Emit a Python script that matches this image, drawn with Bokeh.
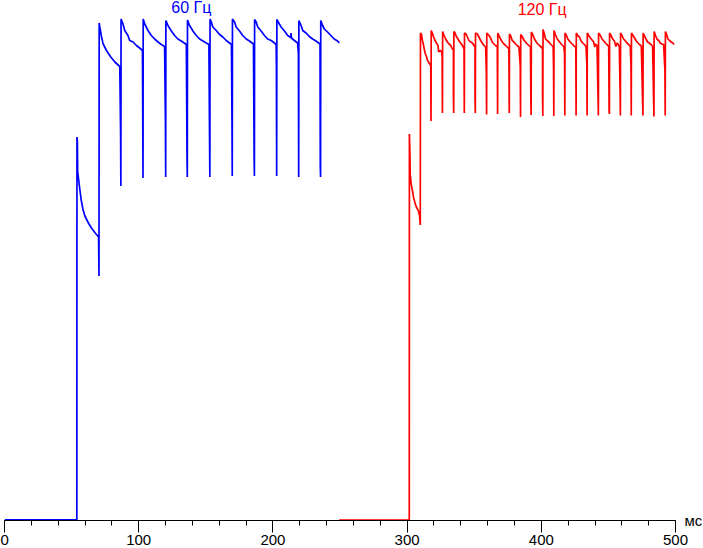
from bokeh.plotting import figure
from bokeh.models import Range1d, SingleIntervalTicker, FixedTicker, LinearAxis, Label, ColumnDataSource
from bokeh.embed import file_html
from bokeh.resources import INLINE
try:
    from bokeh.models import GlobalInlineStyleSheet
except Exception:
    GlobalInlineStyleSheet = None

# ---------------- data (time in ms, brightness in arbitrary units) ----------------
BLUE_LABEL = "60 Гц"
RED_LABEL = "120 Гц"
X_UNIT = "мс"

BLUE_BASE_T = [0.0, 53.9]
BLUE_BASE_V = [0.15, 0.15]
BLUE_RISE_T = [54.0, 54.3, 54.5, 55.9, 57.2, 58.4, 59.9, 62.5, 64.8, 67.6, 70.1]
BLUE_RISE_V = [76.7, 75.9, 69.8, 66.7, 64.0, 62.3, 60.9, 59.5, 58.5, 57.5, 56.7]
BLUE_EDGE_T = [70.4, 86.7, 103.2, 120.1, 136.2, 153.0, 169.7, 186.2, 202.8, 219.2, 235.5]
BLUE_EDGE_MID = [None, 77.9, None, 80.0, 72.7, None, 79.9, 72.7, 90.7, 93.3, 70.9]
BLUE_EDGE_LOW = [48.9, 66.9, 68.5, 68.7, 68.7, 68.7, 68.9, 68.9, 68.9, 68.7, 68.7]
BLUE_PEAK = [99.5, 100.3, 100.3, 100.0, 100.1, 100.3, 100.3, 100.2, 100.2, 100.0, 100.0]
BLUE_DECAY_T = [
    [71.0, 72.3, 73.5, 76.0, 79.2, 82.2, 85.9],
    [88.3, 89.6, 92.0, 93.3, 95.8, 98.3, 100.7, 102.8],
    [104.5, 106.9, 109.4, 111.9, 114.4, 116.9, 119.3],
    [121.8, 124.3, 126.8, 129.2, 131.7, 135.5],
    [137.9, 140.4, 142.9, 145.4, 149.1, 152.3],
    [154.1, 155.2, 157.8, 160.2, 162.7, 165.2, 167.7, 169.1],
    [171.4, 172.6, 175.1, 177.5, 180.1, 182.5, 185.5],
    [187.5, 188.7, 191.2, 193.7, 196.1, 198.7, 201.1, 202.4],
    [204.8, 206.1, 208.6, 211.0, 213.3, 213.5, 213.8, 216.0, 218.4],
    [221.0, 222.2, 224.7, 227.1, 229.6, 232.1, 235.1],
    [237.0, 238.3, 240.7, 243.2, 245.7, 248.2, 249.4],
]
BLUE_DECAY_V = [
    [98.7, 96.7, 95.3, 94.0, 92.7, 91.7, 90.8],
    [99.3, 98.0, 97.0, 96.0, 95.7, 95.0, 94.5, 94.0],
    [99.3, 98.0, 97.0, 96.3, 95.7, 95.2, 94.8],
    [99.0, 97.9, 97.0, 96.3, 95.9, 95.2],
    [99.0, 97.9, 97.0, 96.3, 95.7, 95.2],
    [99.7, 98.7, 98.0, 97.2, 96.7, 96.0, 95.5, 95.2],
    [99.7, 98.7, 97.9, 97.0, 96.3, 95.9, 95.3],
    [99.7, 98.7, 97.9, 97.0, 96.3, 96.0, 95.5, 95.2],
    [99.3, 98.7, 97.9, 97.0, 96.6, 97.5, 96.5, 96.0, 95.5],
    [99.0, 98.0, 97.5, 96.8, 96.3, 95.9, 95.3],
    [99.0, 98.3, 97.7, 97.0, 96.3, 95.9, 95.5],
]

RED_BASE_T = [249.4, 301.6]
RED_BASE_V = [0.1, 0.1]
RED_RISE_T = [301.7, 302.1, 302.3, 303.0, 304.0, 304.7, 305.7, 306.7, 307.7, 308.4, 309.2]
RED_RISE_V = [77.3, 73.3, 69.3, 67.3, 65.9, 64.7, 63.7, 62.8, 62.3, 61.9, 61.1]
RED_EDGE_T = [309.8, 317.8, 326.3, 334.7, 342.6, 350.8, 359.2, 367.4, 376.1, 384.5, 392.4, 401.1,
              409.3, 417.5, 425.9, 434.1, 442.5, 450.7, 458.9, 467.0, 475.7, 483.9, 492.3]
RED_EDGE_MID = [None, None, 92.7, 84.8, None, 84.5, 89.7, 93.5, None, 90.8, 83.9, 85.3,
                90.7, 93.5, None, 91.2, 83.9, 81.9, 85.5, 91.0, None, None, 90.0]
RED_EDGE_LOW = [59.1, 79.9, 81.5, 81.5, 81.5, 81.5, 81.2, 81.3, 81.5, 80.7, 81.1, 80.9,
                80.9, 81.0, 81.0, 81.0, 81.0, 81.3, 81.0, 81.0, 81.0, 80.8, 81.0]
RED_PEAK = [97.5, 98.0, 97.8, 97.8, 97.5, 97.5, 97.5, 97.5, 97.3, 97.2, 97.7, 98.2,
            98.0, 97.5, 97.5, 97.5, 97.5, 97.5, 97.5, 97.5, 97.5, 97.8, 97.8]
RED_DECAY_T = [
    [310.7, 311.4, 312.1, 312.9, 313.6, 314.4, 315.1, 316.4, 317.6],
    [318.8, 319.6, 320.6, 321.8, 323.0, 323.5, 324.5, 325.8],
    [327.5, 328.7, 330.0, 331.2, 332.5, 333.7, 334.5],
    [335.7, 336.7, 337.9, 339.2, 340.4, 341.6, 342.4],
    [343.9, 344.9, 346.1, 347.3, 348.6, 349.8, 350.6],
    [352.3, 353.5, 354.8, 356.0, 357.3, 358.5],
    [361.0, 362.2, 363.4, 364.7, 365.9, 367.2],
    [368.4, 369.6, 370.9, 372.1, 373.4, 374.6, 375.8],
    [377.1, 378.3, 379.6, 380.8, 382.0, 383.3],
    [385.7, 387.0, 388.2, 389.5, 390.7, 391.9],
    [393.9, 394.9, 396.2, 397.4, 398.6, 399.9, 400.9],
    [402.3, 403.1, 404.3, 405.6, 406.8, 408.0, 408.8],
    [410.5, 411.8, 413.0, 414.2, 415.5, 416.7],
    [418.7, 419.7, 420.9, 422.2, 423.4, 424.7, 425.7],
    [427.1, 428.4, 429.6, 430.9, 432.1, 433.3],
    [435.3, 436.6, 437.8, 439.0, 439.8, 440.3, 441.5],
    [444.0, 445.2, 446.5, 447.7, 448.9, 450.2],
    [451.9, 453.2, 454.4, 455.6, 456.4, 457.4, 458.1],
    [460.1, 461.3, 462.6, 463.8, 465.1, 466.3],
    [468.3, 469.5, 470.8, 472.0, 473.2, 474.5],
    [476.7, 478.0, 479.2, 480.4, 481.7, 482.9],
    [485.1, 486.1, 487.4, 488.6, 489.8, 491.1],
    [493.6, 494.3, 495.5, 496.8, 498.0, 499.0],
]
RED_DECAY_V = [
    [97.2, 96.0, 95.2, 94.1, 93.3, 92.8, 92.1, 91.5, 91.0],
    [97.5, 96.8, 96.1, 95.5, 95.0, 93.7, 94.0, 93.7],
    [97.0, 96.3, 95.7, 95.3, 95.0, 94.3, 94.1],
    [97.5, 96.8, 96.3, 95.7, 95.3, 94.8, 94.3],
    [97.3, 96.7, 96.0, 95.7, 95.5, 95.0, 94.7],
    [97.3, 96.7, 96.0, 95.5, 95.0, 94.7],
    [97.0, 96.5, 95.7, 95.3, 95.0, 94.7],
    [97.0, 96.3, 95.7, 95.3, 95.0, 94.7, 94.3],
    [97.0, 96.0, 95.7, 95.3, 95.0, 94.7],
    [96.8, 96.1, 95.7, 95.3, 95.0, 94.7],
    [97.0, 96.3, 95.7, 95.3, 95.0, 94.7, 94.3],
    [97.3, 96.3, 96.0, 95.7, 95.3, 95.0, 94.8],
    [97.2, 96.3, 95.9, 95.5, 95.1, 94.8],
    [97.0, 96.3, 95.9, 95.5, 95.2, 94.8, 94.7],
    [97.0, 96.7, 95.9, 95.5, 95.2, 94.8],
    [97.0, 96.5, 96.1, 95.7, 94.7, 95.3, 95.0],
    [97.0, 96.3, 95.9, 95.5, 95.2, 94.8],
    [97.0, 96.3, 95.9, 94.8, 95.5, 95.2, 94.8],
    [97.0, 96.3, 95.9, 95.5, 95.2, 94.8],
    [97.0, 96.5, 95.9, 95.5, 95.2, 94.9],
    [97.0, 96.3, 95.7, 95.5, 95.2, 94.9],
    [97.0, 96.3, 96.0, 95.5, 95.3, 95.2],
    [97.0, 96.3, 96.0, 95.7, 95.5, 95.2],
]

X_MIN, X_MAX = 0, 500
X_VIEW_MAX = 502.2          # frame ends just right of 500; unit label sits beyond it
X_TICK_STEP = 100
X_MINOR_PER_STEP = 5


def build_trace(base_t, base_v, rise_t, rise_v, edge_t, edge_mid, edge_low, peak, dec_t, dec_v):
    xs = list(base_t) + list(rise_t)
    ys = list(base_v) + list(rise_v)
    for i, t in enumerate(edge_t):
        if edge_mid[i] is not None:
            xs.append(t - 0.2)
            ys.append(edge_mid[i])
        xs.append(t)
        ys.append(edge_low[i])
        xs.append(t + 0.15)
        ys.append(peak[i])
        xs.extend(dec_t[i])
        ys.extend(dec_v[i])
    return ColumnDataSource(data=dict(t=xs, v=ys))


blue_src = build_trace(BLUE_BASE_T, BLUE_BASE_V, BLUE_RISE_T, BLUE_RISE_V, BLUE_EDGE_T,
                       BLUE_EDGE_MID, BLUE_EDGE_LOW, BLUE_PEAK, BLUE_DECAY_T, BLUE_DECAY_V)
red_src = build_trace(RED_BASE_T, RED_BASE_V, RED_RISE_T, RED_RISE_V, RED_EDGE_T,
                      RED_EDGE_MID, RED_EDGE_LOW, RED_PEAK, RED_DECAY_T, RED_DECAY_V)

p = figure(width=705, height=556, x_range=Range1d(X_MIN, X_VIEW_MAX), y_range=Range1d(0, 104),
           y_axis_location=None, toolbar_location=None, output_backend="svg",
           min_border_left=4, min_border_right=25, min_border_top=0, min_border_bottom=36)
if GlobalInlineStyleSheet is not None:
    p.stylesheets = [GlobalInlineStyleSheet(css="html, body { margin: 0 !important; padding: 0 !important; overflow: hidden !important; }")]

p.outline_line_color = None
p.grid.visible = False
p.background_fill_color = "white"
p.border_fill_color = "white"

ax = p.xaxis[0]
ax.bounds = (X_MIN, X_MAX)
ax.ticker = SingleIntervalTicker(interval=X_TICK_STEP, num_minor_ticks=X_MINOR_PER_STEP)
ax.axis_line_color = "black"
ax.axis_line_width = 1
ax.major_tick_line_color = "black"
ax.minor_tick_line_color = "black"
ax.major_tick_in = 0
ax.major_tick_out = 12
ax.minor_tick_in = 0
ax.minor_tick_out = 5
ax.major_label_standoff = 2
ax.major_label_text_font = "Liberation Sans"
ax.major_label_text_font_size = "15px"
ax.major_label_text_color = "black"

# unit label "мс" at the right end of the time axis, drawn as a right-side axis label at level 0
unit_ax = LinearAxis(ticker=FixedTicker(ticks=[0]), major_label_overrides={0: X_UNIT},
                     axis_line_color=None, major_tick_line_color=None, minor_tick_line_color=None,
                     major_tick_in=0, major_tick_out=0, minor_tick_in=0, minor_tick_out=0,
                     major_label_standoff=6, major_label_text_font="Liberation Sans",
                     major_label_text_font_size="15px", major_label_text_color="black")
p.add_layout(unit_ax, "right")

p.line("t", "v", source=blue_src, line_color="#0000FF", line_width=1.7)
p.line("t", "v", source=red_src, line_color="#FF0000", line_width=1.7)

p.add_layout(Label(x=139.2, y=102.6, text=BLUE_LABEL, text_align="center", text_baseline="middle",
                   text_font="Liberation Sans", text_font_size="16px", text_color="#0000FF"))
p.add_layout(Label(x=400.6, y=102.2, text=RED_LABEL, text_align="center", text_baseline="middle",
                   text_font="Liberation Sans", text_font_size="16px", text_color="#FF0000"))

open("out.html", "w").write(file_html(p, INLINE))
